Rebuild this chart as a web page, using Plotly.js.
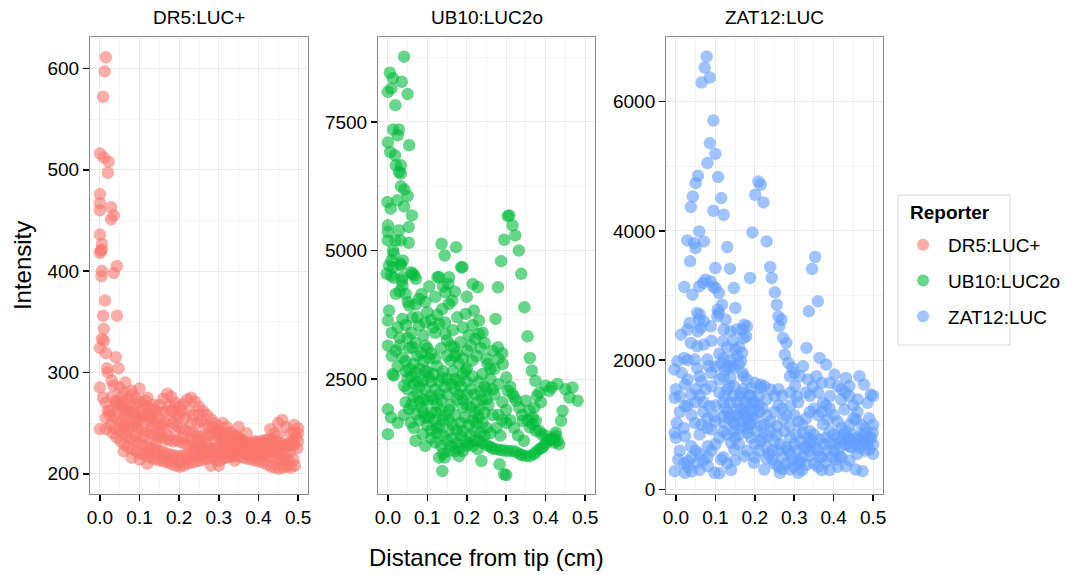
<!DOCTYPE html>
<html>
<head>
<meta charset="utf-8">
<script src="https://cdn.plot.ly/plotly-3.0.1.min.js"></script>
<style>
  html, body { margin: 0; padding: 0; background: #ffffff; }
  #chart { width: 1077px; height: 575px; }
</style>
</head>
<body>
<div id="chart"></div>
<script>
// Reporter names and their colours
const reporters = ['DR5:LUC+', 'UB10:LUC2o', 'ZAT12:LUC'];
const reporterColors = ['rgba(248,118,109,0.6)', 'rgba(0,186,56,0.6)', 'rgba(97,156,255,0.6)'];

// Shared x ticks (distance from tip, cm)
const distTicks = [0, 0.1, 0.2, 0.3, 0.4, 0.5];
const distTickText = ['0.0', '0.1', '0.2', '0.3', '0.4', '0.5'];

// DR5:LUC+ measurements: [distance (cm), intensity]
const dr5 = [
  [0.015,611],[0.012,597],[0.008,572],[0.000,516],[0.010,512],[0.022,508],[0.020,497],[0.000,476],[0.000,467],[0.028,463],
  [0.000,460],[0.035,455],[0.028,451],[0.000,436],[0.005,427],[0.005,421],[0.000,418],[0.043,405],[0.005,400],[0.004,395],
  [0.035,398],[0.002,420],[0.013,371],[0.008,356],[0.043,356],[0.010,343],[0.005,333],[0.000,324],[0.010,331],[0.015,319],
  [0.040,315],[0.018,304],[0.047,304],[0.000,285],[0.034,287],[0.008,275],[0.064,290],[0.000,244],[0.020,262],
  [0.03,276],[0.04,272],[0.05,268],[0.06,270],[0.07,274],[0.08,278],[0.09,275],[0.10,271],[0.11,268],[0.12,266],
  [0.13,264],[0.14,262],[0.15,268],[0.16,274],[0.17,279],[0.18,276],[0.19,270],[0.20,266],[0.21,269],[0.22,273],
  [0.23,275],[0.24,271],[0.25,266],[0.26,262],[0.27,258],[0.28,254],[0.29,250],[0.30,247],[0.31,250],[0.32,246],
  [0.33,241],[0.34,238],[0.35,236],[0.36,233],[0.37,231],[0.38,230],[0.39,232],[0.40,229],[0.41,227],[0.42,228],
  [0.43,233],[0.44,240],[0.45,250],[0.46,253],[0.47,246],[0.48,240],[0.49,248],[0.50,245],
  [0.025,258],[0.035,256],[0.045,254],[0.055,252],[0.065,250],[0.075,248],[0.085,247],[0.095,245],[0.105,243],[0.115,241],
  [0.125,240],[0.135,238],[0.145,236],[0.155,236],[0.165,234],[0.175,233],[0.185,232],[0.195,233],[0.205,231],[0.215,230],
  [0.225,228],[0.235,229],[0.245,227],[0.255,226],[0.265,226],[0.275,225],[0.285,224],[0.295,226],[0.305,227],[0.315,228],
  [0.325,226],[0.335,224],[0.345,225],[0.355,226],[0.365,226],[0.375,227],[0.385,226],[0.395,225],[0.405,224],[0.415,225],
  [0.425,226],[0.435,224],[0.445,222],[0.455,224],[0.465,227],[0.475,229],[0.485,232],[0.495,236],
  [0.032,240],[0.042,236],[0.052,232],[0.062,229],[0.072,226],[0.082,224],[0.092,222],[0.102,220],[0.112,219],[0.122,217],
  [0.132,215],[0.142,214],[0.152,213],[0.162,212],[0.172,211],[0.182,209],[0.192,208],[0.202,207],[0.212,208],[0.222,210],
  [0.232,211],[0.242,212],[0.252,213],[0.262,214],[0.272,215],[0.282,216],[0.292,214],[0.302,213],[0.312,215],[0.322,216],
  [0.332,217],[0.342,218],[0.352,217],[0.362,216],[0.372,215],[0.382,214],[0.392,213],[0.402,212],[0.412,211],[0.422,209],
  [0.432,207],[0.442,206],[0.452,205],[0.462,206],[0.472,207],[0.482,206],[0.492,208],
  [0.045,266],[0.055,264],[0.065,262],[0.075,260],[0.085,259],[0.095,257],[0.105,256],[0.115,254],[0.125,252],[0.135,251],
  [0.145,249],[0.155,248],[0.165,250],[0.175,252],[0.185,250],[0.195,247],[0.205,245],[0.215,243],[0.225,241],[0.235,240],
  [0.245,238],[0.255,237],[0.265,236],[0.275,238],[0.285,240],[0.295,238],[0.305,236],[0.315,234],[0.325,233],[0.335,232],
  [0.345,231],[0.355,230],[0.365,228],[0.375,229],[0.385,230],[0.395,231],[0.405,232],[0.415,233],[0.425,234],[0.435,233],
  [0.445,232],[0.455,230],[0.465,229],[0.475,228],[0.485,230],
  [0.028,248],[0.038,245],[0.048,243],[0.058,240],[0.068,237],[0.078,235],[0.088,233],[0.098,231],[0.108,229],[0.118,228],
  [0.128,226],[0.138,225],[0.148,223],[0.158,222],[0.168,220],[0.178,219],[0.188,218],[0.198,217],[0.208,218],[0.218,219],
  [0.228,220],[0.238,219],[0.248,218],[0.258,219],[0.268,221],[0.278,222],[0.288,220],[0.298,219],[0.308,221],[0.318,222],
  [0.328,221],[0.338,220],[0.348,221],[0.358,222],[0.368,220],[0.378,219],[0.388,218],[0.398,219],[0.408,220],[0.418,219],
  [0.428,217],[0.438,216],[0.448,215],[0.458,214],[0.468,213],[0.478,212],[0.488,214],[0.498,225],
  [0.07,262],[0.09,268],[0.11,258],[0.13,257],[0.06,280],[0.08,282],[0.10,284],[0.05,285],[0.03,292],[0.02,300],
  [0.12,275],[0.18,262],[0.20,256],[0.23,250],[0.25,258],[0.14,230],[0.09,238],[0.04,270],[0.06,246],[0.015,270],
  [0.015,255],[0.025,262],[0.50,232],[0.49,240],[0.45,238],[0.43,244],[0.015,244],[0.12,222],[0.16,244],[0.30,242],
  [0.37,240],[0.35,246],
  [0.055,275],[0.065,258],[0.075,268],[0.085,262],[0.095,250],[0.105,262],[0.115,272],[0.125,258],[0.135,268],[0.145,255],
  [0.155,260],[0.165,262],[0.175,268],[0.185,262],[0.195,258],[0.205,262],[0.215,255],[0.225,262],[0.235,258],[0.245,250],
  [0.255,252],[0.265,248],[0.275,246],[0.285,246],[0.295,242],[0.305,240],[0.315,238],[0.325,240],[0.335,236],[0.345,237],
  [0.355,233],
  [0.06,222],[0.08,216],[0.10,214],[0.12,210],[0.14,220],[0.16,217],[0.18,214],[0.20,212],[0.22,215],[0.24,223],
  [0.26,222],[0.28,208],[0.30,208],[0.32,220],[0.34,213],[0.36,222],[0.38,223],[0.40,216],[0.42,222],[0.44,228],
  [0.46,218],[0.48,222],[0.50,240],
  [0.07,243],[0.09,252],[0.11,236],[0.13,245],[0.15,240],[0.17,238],[0.19,242],[0.21,236],[0.23,234],[0.25,232],
  [0.27,230],[0.29,232],[0.31,231],[0.33,229],[0.35,232],[0.37,224],[0.39,222],[0.41,230],[0.43,222],[0.45,227],
  [0.47,222],[0.49,228]
];

// UB10:LUC2o measurements: [distance (cm), intensity]
const ub10 = [
  [0.041,8767],[0.005,8455],[0.013,8346],[0.035,8280],[0.000,8085],[0.009,8150],[0.050,8040],[0.019,7825],
  [0.013,7350],[0.028,7350],[0.025,7240],[0.000,7100],[0.054,7045],[0.006,6915],[0.018,6850],
  [0.020,6655],[0.033,6655],[0.028,6525],[0.033,6495],[0.033,6247],[0.042,6183],[0.050,6058],
  [-0.001,5941],[0.024,5975],[0.041,5857],[0.007,5812],[0.061,5682],
  [0.053,5454],[0.000,5488],[0.000,5357],[0.028,5390],[0.000,5195],[0.019,5195],[0.032,5195],[0.053,5150],
  [0.136,5130],[0.173,5064],[0.144,4902],[0.186,4674],
  [0.308,5682],[0.304,5668],[0.316,5487],[0.323,5292],[0.295,5208],[0.332,5000],[0.287,4792],[0.338,4546],
  [0.013,5000],[0.009,4805],[0.038,4805],[0.013,4675],[0.059,4577],[0.067,4513],[0.008,4513],[0.037,4480],[0.126,4480],[0.155,4480],
  [0.015,4936],[0.032,4740],[-0.003,4546],[0.015,4470],[0.036,4415],
  [0.153,4350],[0.228,4285],[0.279,4285],[0.346,3895],[0.273,3669],[0.354,3330],[0.360,2909],[0.365,2661],[0.374,2466],[0.384,2240],
  [0.015,2565],[0.144,973],
  [0.228,1136],[0.237,908],[0.283,843],[0.295,648],[0.300,635],
  [0.400,2370],[0.409,2272],[0.430,2403],[0.468,2337],[0.481,2078],[0.460,2142],[0.443,1882],[0.439,1688],[0.426,1460],[0.434,1233],
  [0.422,1265],[0.409,1330],[0.415,2340],[0.450,2300],
  [0.378,2175],[0.371,1947],[0.388,2045],[0.367,1752],[0.375,1688],
  [0.232,1298],[0.274,1136],[0.316,1103],[0.350,1006],[0.384,1136],[0.240,1260],[0.250,1220],[0.260,1180],[0.265,1150],[0.285,1120],
  [0.295,1110],[0.305,1100],[0.325,1080],[0.335,1040],[0.340,1020],[0.360,1000],[0.370,1040],[0.375,1080],[0.390,1160],[0.395,1200],
  [0.400,1250],[0.415,1320],[0.420,1350],[0.425,1400],[0.430,1300],
  [0.266,3051],[0.279,3116],[0.253,2792],[0.291,2792],[0.300,2532],[0.304,2272],[0.316,2207],[0.325,2078],[0.333,1947],[0.350,2078],
  [0.359,1882],[0.342,1688],[0.367,1622],[0.375,1493],[0.384,1493],[0.310,2350],[0.320,2150],[0.340,1800],[0.355,1700],[0.360,1560],
  [0.390,1420],[0.400,1400],
  [0.003,4708],[0.033,4708],[0.062,4545],[0.071,4448],[0.037,4318],[0.020,4156],[0.045,4156],[0.079,4058],[0.054,3928],[0.003,3831],
  [0.000,3636],[0.037,3669],[0.025,3505],[0.062,3700],[0.079,3539],[0.000,3149],[0.020,3051],[0.062,3116],[0.037,2921],[0.012,2597],
  [0.054,2695],[0.071,2629],[0.041,2369],[0.066,2402],[0.088,2467],[0.104,2531],[0.000,1915],[0.008,1752],[0.000,1428],[0.054,1915],
  [0.071,1818],[0.058,1654],[0.088,1428],[0.121,1265],[0.130,972],[0.138,713],[0.104,1752],[0.121,1850],[0.108,2175],[0.130,2208],
  [0.138,2531],[0.159,2857],[0.180,2467],[0.197,2662],[0.214,2857],[0.168,3116],[0.184,3213],[0.201,3051],[0.222,3279],[0.231,3377],
  [0.146,3377],[0.130,3571],[0.138,3864],[0.155,3961],[0.176,3700],[0.197,3766],[0.218,3831],[0.231,3636],[0.130,4480],[0.146,4187],
  [0.163,4025],[0.189,4675],
  [0.050,3300],[0.070,3200],[0.090,3350],[0.100,3100],[0.110,3000],[0.120,2900],[0.090,2850],[0.080,2700],[0.100,2650],[0.115,2600],
  [0.125,2750],[0.140,2650],[0.150,2500],[0.160,2400],[0.170,2300],[0.180,2200],[0.190,2100],[0.200,2000],[0.210,1950],[0.220,1850],
  [0.230,1750],[0.240,1650],[0.250,1550],[0.260,1450],[0.095,2300],[0.100,2080],[0.115,2100],[0.125,2000],[0.135,1900],[0.145,1800],
  [0.155,1700],[0.165,1600],[0.175,1500],[0.185,1400],[0.195,1300],[0.205,1250],[0.215,1200],[0.075,2200],[0.080,2050],[0.085,1950],
  [0.090,1850],[0.100,1600],[0.110,1500],[0.120,1700],[0.130,1600],[0.140,1400],[0.150,1300],[0.160,1200],[0.170,1100],[0.180,1000],
  [0.190,1100],[0.200,1200],[0.210,1400],[0.220,1500],[0.230,1900],[0.240,2100],[0.250,2300],[0.260,2500],[0.270,2700],[0.280,2900],
  [0.290,3000],[0.180,2800],[0.190,2600],[0.200,2450],[0.210,2300],[0.220,2200],[0.170,2950],[0.160,3150],[0.150,3250],[0.120,3400],
  [0.110,3650],[0.100,3800],[0.095,4000],[0.105,4300],[0.115,3500],[0.045,2050],[0.060,2000],[0.065,2800],[0.050,2500],[0.085,3000],
  [0.240,2600],[0.250,2900],[0.235,3100],[0.255,2000],[0.265,1800],[0.270,2200],[0.280,2400],[0.290,2050],[0.300,1900],[0.310,1700],
  [0.320,1550],[0.330,1400],[0.345,1300],[0.275,1550],[0.285,1400],[0.290,1700],
  [0.030,4200],[0.050,4000],[0.070,3950],[0.085,4150],[0.120,4100],[0.140,4300],[0.170,4200],[0.200,4100],[0.215,4350],
  [0.010,3400],[0.030,3300],[0.045,3550],[0.060,3400],[0.075,3700],[0.095,3600],[0.125,3750],[0.145,3600],[0.165,3450],[0.190,3500],
  [0.205,3350],[0.215,3550],[0.240,3400],
  [0.010,2950],[0.030,3150],[0.045,2850],[0.055,3100],[0.075,2950],[0.095,3150],[0.105,2900],[0.135,3100],[0.150,2950],[0.175,3000],
  [0.190,2900],[0.210,3150],[0.225,2950],[0.245,3200],
  [0.025,2750],[0.045,2650],[0.060,2550],[0.075,2450],[0.095,2650],[0.110,2450],[0.130,2450],[0.145,2350],[0.165,2650],[0.170,2500],
  [0.185,2350],[0.200,2700],[0.215,2550],[0.230,2450],[0.245,2350],[0.260,2700],
  [0.050,2300],[0.065,2150],[0.080,2350],[0.090,2100],[0.120,2300],[0.135,2100],[0.150,2200],[0.160,2000],[0.175,2100],[0.190,1950],
  [0.200,2200],[0.225,2050],[0.235,2250],[0.250,2100],[0.265,2300],
  [0.025,1650],[0.040,1800],[0.065,1550],[0.080,1700],[0.095,1750],[0.110,1850],[0.125,1550],[0.140,1700],[0.155,1900],[0.170,1800],
  [0.185,1650],[0.195,1750],[0.205,1600],[0.215,1700],[0.225,1650],[0.245,1850],[0.280,1800],[0.300,1650],
  [0.070,1300],[0.095,1200],[0.110,1350],[0.125,1450],[0.135,1200],[0.155,1500],[0.165,1350],[0.175,1250],[0.190,1500],[0.220,1300],
  [0.235,1450],[0.245,1400],[0.180,1150],[0.155,1100],[0.140,1050]
];

// ZAT12:LUC measurements: [distance (cm), intensity]
const zat12 = [
  [0.078,6697],[0.073,6527],[0.086,6372],[0.065,6295],[0.095,5708],[0.086,5358],[0.100,5193],[0.080,5049],[0.056,4853],[0.050,4739],
  [0.107,4833],[0.043,4533],[0.038,4369],[0.115,4508],[0.095,4312],[0.121,4250],
  [0.209,4765],[0.215,4714],[0.201,4560],[0.222,4441],[0.194,3977],[0.230,3838],
  [0.059,3992],[0.029,3853],[0.046,3812],[0.071,3838],[0.050,3736],[0.130,3751],[0.036,3529],[0.353,3597],[0.345,3411],[0.100,3426],
  [0.137,3416],[0.239,3442],
  [0.188,3272],[0.243,3272],[0.251,3050],[0.256,2859],[0.260,2678],[0.268,2627],[0.360,2910],[0.337,2756],[0.331,2190],
  [0.021,3133],[0.042,3014],[0.059,3142],[0.075,3246],[0.088,3219],[0.100,3117],[0.109,3039],[0.147,3117],
  [0.151,2808],[0.117,2859],[0.109,2731],[0.126,2627],[0.105,2678],[0.088,2524],
  [0.054,2731],[0.059,2627],[0.071,2601],[0.063,2499],[0.029,2473],[0.013,2395],
  [0.038,2267],[0.054,2215],[0.071,2241],[0.080,2009],[0.084,1906],[0.054,1880],[0.021,2035],[0.004,1983],[-0.004,1855],
  [0.121,2473],[0.138,2447],[0.155,2473],[0.168,2473],[0.180,2524],[0.172,2344],[0.151,2164],[0.121,2035],[0.138,2009],[0.155,2060],
  [0.168,2112],[0.159,1932],[0.130,1906],[0.147,1880],[0.121,1751],[0.138,1726],[0.172,1751],[0.130,1546],[0.147,1597],[0.163,1442],
  [0.138,1340],[0.155,1237],[0.121,1133],[0.172,1133],[0.147,1030],
  [0.069,3195],[0.094,3142],[0.106,2782],[0.060,2705],[0.035,2576],[0.056,2447],[0.173,2550],[0.178,2370],[0.119,2292],[0.048,2009],
  [0.140,1906],[0.165,1983],[0.169,1803],[0.090,1803],[0.065,1674],[0.090,1597],[0.023,1623],[0.010,1442],[0.039,1468],[-0.003,1417],
  [0.023,1288],[0.085,1288],[0.123,1442],[0.165,1494],[0.190,1571],[0.215,1571],[0.224,1597],[0.240,1546],[0.182,1288],[0.140,1133],
  [0.098,1133],[0.048,1030],[0.002,1030],[-0.003,876],[0.023,824],[0.065,1005],[0.090,927],[0.123,1030],[0.190,1030],[0.215,978],
  [0.232,824],[0.182,876],[0.140,722],[0.081,669],[0.039,669],[0.006,464],[0.031,437],[0.056,412],[0.081,360],[0.098,258],
  [0.115,464],[0.148,618],[0.173,515],[0.198,412],[0.224,309],[0.244,464],[-0.003,283],[0.023,258],
  [0.364,2035],[0.381,1932],[0.402,1777],[0.431,1726],[0.465,1752],[0.477,1623],[0.494,1468],[0.486,1340],[0.461,1391],[0.440,1442],
  [0.419,1391],[0.390,1442],[0.373,1340],[0.322,1906],[0.314,1751],[0.302,1597],[0.289,1751],[0.306,1442],[0.348,1597],[0.356,1751],
  [0.335,1700],[0.427,1236],[0.385,1082],[0.373,1005],[0.456,1082],[0.482,876],[0.499,876],[0.490,618],[0.465,773],[0.440,669],
  [0.415,515],[0.390,721],[0.364,773],[0.339,721],[0.322,876],[0.289,979],[0.272,1082],[0.256,979],[0.406,464],[0.431,360],
  [0.456,309],[0.473,283],[0.339,515],[0.314,412],[0.289,309],[0.264,258],[0.310,258],
  [0.262,2525],[0.272,2344],[0.280,2267],[0.276,2087],[0.285,1958],[0.295,1880],[0.300,1800],
  [0.20,700],[0.21,600],[0.22,800],[0.23,650],[0.24,900],[0.25,750],[0.26,600],[0.27,500],[0.28,650],[0.29,800],
  [0.30,700],[0.31,600],[0.32,500],[0.33,650],[0.34,900],[0.35,850],[0.36,600],[0.37,500],[0.38,800],[0.39,900],
  [0.40,850],[0.41,800],[0.42,750],[0.43,700],[0.44,780],[0.45,850],[0.46,800],[0.47,700],[0.48,750],[0.49,800],
  [0.50,700],[0.35,400],[0.36,350],[0.37,300],[0.38,420],[0.30,350],[0.32,300],[0.33,380],[0.25,400],[0.26,350],
  [0.27,320],[0.28,400],[0.20,1100],[0.21,1200],[0.22,1250],[0.23,1150],[0.24,1050],[0.25,1200],[0.26,1300],[0.27,1250],
  [0.28,1150],[0.29,1300],[0.30,1150],[0.31,1050],[0.32,1000],[0.33,1100],[0.34,1200],[0.35,1250],[0.36,1150],[0.37,1200],
  [0.38,1300],[0.39,1250],[0.40,1150],[0.41,1050],[0.42,950],[0.43,900],[0.44,1000],[0.45,1100],[0.46,1200],[0.47,1000],
  [0.48,950],[0.49,1100],[0.50,1000],[0.50,1450],[0.45,1300],[0.41,1600],[0.42,1550],[0.43,1500],[0.44,1600],[0.39,1650],
  [0.37,1650],[0.36,1500],[0.34,1450],[0.33,1500],[0.31,1350],[0.29,1500],[0.27,1450],[0.26,1550],[0.25,1450],[0.23,1400],
  [0.21,1450],[0.20,1350],[0.19,1200],[0.18,1100],[0.17,950],[0.16,850],[0.15,800],[0.13,850],[0.12,900],[0.11,800],
  [0.10,700],[0.09,600],[0.08,500],[0.07,450],[0.06,550],[0.05,600],[0.04,500],[0.03,350],[0.02,400],[0.01,600],
  [0.00,800],[0.01,1200],[0.00,1550],[0.03,1700],[0.05,1350],[0.06,1450],[0.07,1200],[0.08,1100],[0.10,1300],[0.11,1500],
  [0.10,1900],[0.11,2100],[0.09,2300],[0.13,2200],[0.145,2300],[0.16,2200],[0.20,1650],[0.215,1620],[0.18,1700],[0.17,1550],
  [0.19,1450],[0.21,1300],[0.15,1000],[0.16,700],[0.18,600],[0.19,800],[0.20,500],[0.12,500],[0.13,400],[0.14,300],
  [0.11,250],[0.06,300],[0.04,280],[0.15,450],[0.23,480],[0.245,600],[0.29,550],[0.31,450],[0.34,600],[0.40,600],
  [0.42,500],[0.44,450],[0.46,550],[0.48,600],[0.41,350],[0.39,300],[0.18,950],[0.13,1200],[0.12,1350],
  [0.205,900],[0.215,750],[0.225,1000],[0.235,550],[0.255,850],[0.265,700],[0.275,900],[0.285,600],[0.295,450],[0.305,850],
  [0.315,750],[0.325,650],[0.335,800],[0.345,750],[0.355,650],[0.365,500],[0.375,700],[0.385,600],[0.395,500],[0.405,700],
  [0.415,650],[0.425,850],[0.435,800],[0.445,650],[0.455,700],[0.465,650],[0.475,850],[0.485,700],[0.495,800],[0.500,550],
  [0.110,1700],[0.115,1950],[0.125,1850],[0.135,1600],[0.145,1450],[0.155,1350],[0.165,1250],[0.175,1350],[0.185,1450],[0.195,1350],
  [0.125,1250],[0.135,1100],[0.145,900],[0.155,1150],[0.165,1050],[0.175,1200],[0.185,1000],[0.195,1150],
  [0.020,950],[0.040,1150],[0.060,850],[0.080,950],[0.100,1050],[0.030,1300],[0.050,1550],[0.070,1350],[0.015,1800],[0.030,2000],
  [0.060,1750],[0.075,1550]
];

const seriesData = [dr5, ub10, zat12];

// Free y ranges and tick spacing for each facet
const yRanges = [[180, 631], [265, 9150], [-70, 7000]];
const yDticks = [100, 2500, 2000];

const FONT = 'Liberation Sans, Arial, Helvetica, sans-serif';
const panelDomains = [[0, 0.2749], [0.3632, 0.6368], [0.7264, 1]];

const traces = seriesData.map((pts, i) => ({
  type: 'scatter',
  mode: 'markers',
  name: reporters[i],
  legendgroup: reporters[i],
  x: pts.map(p => p[0]),
  y: pts.map(p => p[1]),
  xaxis: i === 0 ? 'x' : 'x' + (i + 1),
  yaxis: i === 0 ? 'y' : 'y' + (i + 1),
  marker: { color: reporterColors[i], size: 12.5, line: { width: 0 } },
  hoverinfo: 'skip'
}));

function axisBase() {
  return {
    showline: true,
    mirror: true,
    linecolor: '#8c8c8c',
    linewidth: 1,
    showgrid: true,
    gridcolor: '#ebebeb',
    gridwidth: 1,
    zeroline: false,
    ticks: 'outside',
    ticklen: 6,
    tickwidth: 1.6,
    tickcolor: '#000000',
    tickfont: { family: FONT, size: 19, color: '#000000' },
    fixedrange: true
  };
}

const layout = {
  width: 1077,
  height: 575,
  margin: { l: 90, r: 194, t: 37, b: 81 },
  paper_bgcolor: '#ffffff',
  plot_bgcolor: '#ffffff',
  font: { family: FONT, color: '#000000' },
  showlegend: true,
  legend: {
    x: 1.019, y: 0.5864, xanchor: 'left', yanchor: 'top',
    bgcolor: 'rgba(0,0,0,0)',
    borderwidth: 0,
    font: { family: FONT, size: 19, color: '#000000' },
    traceorder: 'grouped',
    tracegroupgap: 8,
    itemwidth: 40,
    itemsizing: 'constant'
  },
  // legend frame
  shapes: [{
    type: 'rect', xref: 'paper', yref: 'paper',
    x0: 1.0189, x1: 1.1602, y0: 0.326, y1: 0.654,
    line: { color: '#d9d9d9', width: 1 }, fillcolor: 'rgba(0,0,0,0)', layer: 'below'
  }],
  annotations: [],
  hovermode: false
};

for (let i = 0; i < 3; i++) {
  const sfx = i === 0 ? '' : String(i + 1);
  layout['xaxis' + sfx] = Object.assign(axisBase(), {
    domain: panelDomains[i],
    anchor: 'y' + sfx,
    range: [-0.025, 0.525],
    tickvals: distTicks,
    ticktext: distTickText,
    minor: { tickvals: [0.05, 0.15, 0.25, 0.35, 0.45], showgrid: true, gridcolor: '#f5f5f5', gridwidth: 1, ticks: '' }
  });
  layout['yaxis' + sfx] = Object.assign(axisBase(), {
    domain: [0, 1],
    anchor: 'x' + sfx,
    range: yRanges[i],
    dtick: yDticks[i],
    tick0: 0,
    minor: { dtick: yDticks[i] / 2, tick0: 0, showgrid: true, gridcolor: '#f5f5f5', gridwidth: 1, ticks: '' }
  });
  // facet strip label
  layout.annotations.push({
    xref: 'paper', yref: 'paper',
    x: (panelDomains[i][0] + panelDomains[i][1]) / 2, y: 1.0416,
    xanchor: 'center', yanchor: 'middle',
    text: reporters[i], showarrow: false,
    font: { family: FONT, size: 19, color: '#000000' }
  });
}

// legend heading
layout.annotations.push({
  xref: 'paper', yref: 'paper', x: 1.0315, y: 0.6149,
  xanchor: 'left', yanchor: 'middle',
  text: '<b>Reporter</b>', showarrow: false,
  font: { family: FONT, size: 19, color: '#000000' }
});

// shared axis titles
layout.annotations.push({
  xref: 'paper', yref: 'paper', x: 0.5, y: -0.138,
  xanchor: 'center', yanchor: 'middle',
  text: 'Distance from tip (cm)', showarrow: false,
  font: { family: FONT, size: 24, color: '#000000' }
});
layout.annotations.push({
  xref: 'paper', yref: 'paper', x: -0.085, y: 0.5,
  xanchor: 'center', yanchor: 'middle', textangle: -90,
  text: 'Intensity', showarrow: false,
  font: { family: FONT, size: 24, color: '#000000' }
});

Plotly.newPlot('chart', traces, layout, { displayModeBar: false, staticPlot: true });
</script>
</body>
</html>
